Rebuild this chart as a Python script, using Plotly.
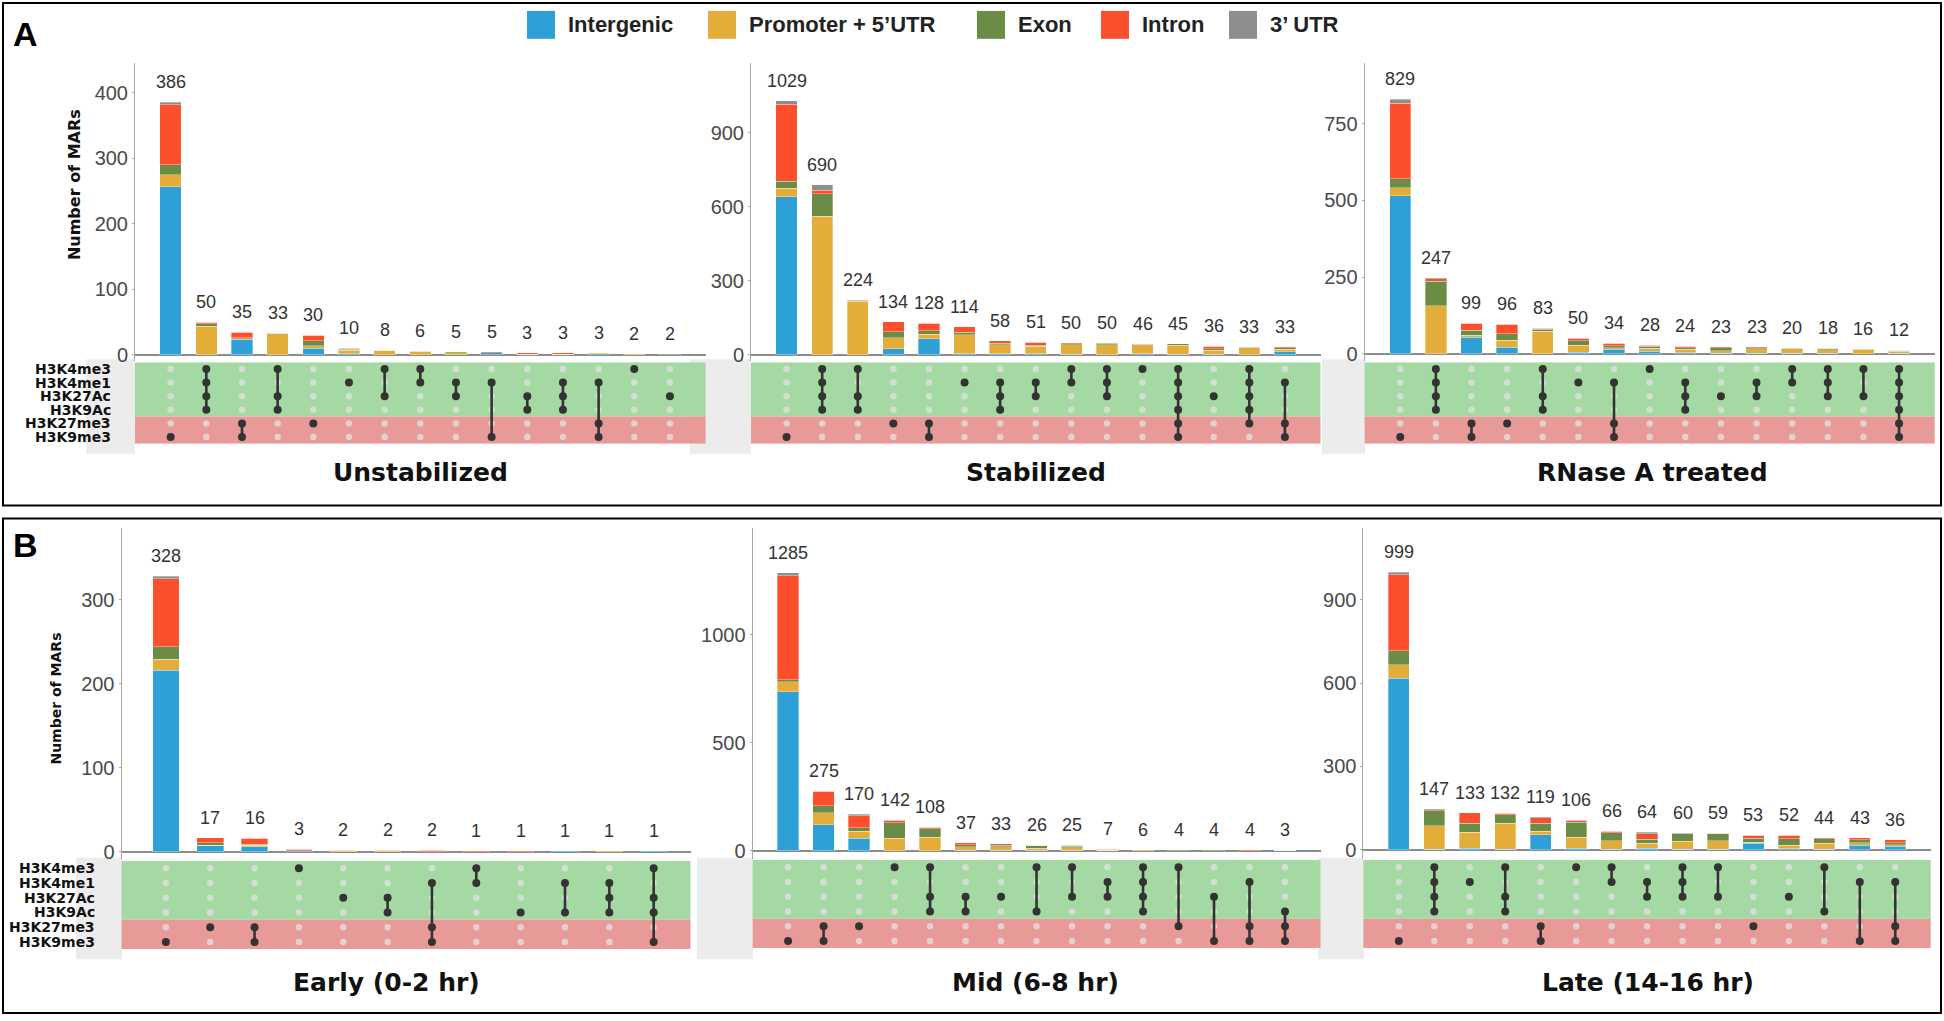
import plotly.graph_objects as go

W, H = 1944, 1021

marks = ["H3K4me3", "H3K4me1", "H3K27Ac", "H3K9Ac", "H3K27me3", "H3K9me3"]
categories = ["Intergenic", "Promoter + 5’UTR", "Exon", "Intron", "3’ UTR"]
cat_colors = ["#2ea0d8", "#e4ad3a", "#6a8c47", "#fe4f2d", "#8e8e8e"]

# ---------------- Panel A: Unstabilized ----------------
unst_totals     = [386, 50, 35, 33, 30, 10, 8, 6, 5, 5, 3, 3, 3, 2, 2]
unst_intergenic = [257, 0, 23, 0, 10, 2, 0, 0, 0, 3, 0, 0, 2, 0, 0]
unst_promoter   = [18, 44, 2, 32, 4, 5, 7, 5, 3, 0, 1, 1, 1, 2, 0]
unst_exon       = [15, 4, 1, 0, 8, 2, 0, 0, 2, 0, 0, 0, 0, 0, 2]
unst_intron     = [92, 2, 9, 1, 8, 1, 1, 1, 0, 2, 2, 2, 0, 0, 0]
unst_utr3       = [4, 0, 0, 0, 0, 0, 0, 0, 0, 0, 0, 0, 0, 0, 0]
unst_sets = [[5], [0, 1, 2, 3], [4, 5], [0, 2, 3], [4], [1], [0, 2], [0, 1], [1, 2],
             [1, 5], [2, 3], [1, 2, 3], [1, 4, 5], [0], [2]]

# ---------------- Panel A: Stabilized ----------------
stab_totals     = [1029, 690, 224, 134, 128, 114, 58, 51, 50, 50, 46, 45, 36, 33, 33]
stab_intergenic = [640, 0, 0, 26, 66, 5, 4, 4, 2, 1, 4, 2, 2, 1, 12]
stab_promoter   = [36, 562, 218, 44, 17, 76, 38, 32, 40, 40, 37, 38, 18, 28, 12]
stab_exon       = [28, 90, 4, 24, 16, 10, 6, 3, 4, 7, 3, 5, 6, 2, 6]
stab_intron     = [311, 15, 2, 40, 29, 23, 10, 12, 4, 2, 2, 0, 10, 2, 3]
stab_utr3       = [14, 23, 0, 0, 0, 0, 0, 0, 0, 0, 0, 0, 0, 0, 0]
stab_sets = [[5], [0, 1, 2, 3], [0, 2, 3], [4], [4, 5], [1], [1, 2, 3], [1, 2], [0, 1],
             [0, 1, 2], [0], [0, 1, 2, 3, 4, 5], [2], [0, 1, 2, 3, 4], [1, 4, 5]]

# ---------------- Panel A: RNase A treated ----------------
rnase_totals     = [829, 247, 99, 96, 83, 50, 34, 28, 24, 23, 23, 20, 18, 16, 12]
rnase_intergenic = [515, 0, 53, 21, 0, 5, 15, 8, 3, 2, 2, 1, 1, 0, 1]
rnase_promoter   = [26, 156, 8, 23, 73, 22, 5, 10, 11, 8, 14, 15, 12, 15, 7]
rnase_exon       = [29, 80, 16, 21, 7, 15, 6, 6, 6, 9, 4, 2, 3, 1, 4]
rnase_intron     = [247, 8, 22, 31, 3, 7, 8, 4, 4, 4, 3, 2, 2, 0, 0]
rnase_utr3       = [12, 3, 0, 0, 0, 1, 0, 0, 0, 0, 0, 0, 0, 0, 0]
rnase_sets = [[5], [0, 1, 2, 3], [4, 5], [4], [0, 2, 3], [1], [1, 4, 5], [0], [1, 2, 3],
              [2], [1, 2], [0, 1], [0, 1, 2], [0, 2], [0, 1, 2, 3, 4, 5]]

# ---------------- Panel B: Early (0-2 hr) ----------------
early_totals     = [328, 17, 16, 3, 2, 2, 2, 1, 1, 1, 1, 1]
early_intergenic = [216, 7, 6, 1, 0, 0, 0, 0, 0, 1, 0, 1]
early_promoter   = [13, 1, 2, 0, 1, 1, 0, 0, 0, 0, 1, 0]
early_exon       = [15, 3, 1, 0, 0, 0, 0, 0, 0, 0, 0, 0]
early_intron     = [81, 6, 7, 2, 1, 1, 2, 1, 1, 0, 0, 0]
early_utr3       = [3, 0, 0, 0, 0, 0, 0, 0, 0, 0, 0, 0]
early_sets = [[5], [4], [4, 5], [0], [2], [2, 3], [1, 4, 5], [0, 1], [3], [1, 3],
              [1, 2, 3], [0, 2, 3, 5]]

# ---------------- Panel B: Mid (6-8 hr) ----------------
mid_totals     = [1285, 275, 170, 142, 108, 37, 33, 26, 25, 7, 6, 4, 4, 4, 3]
mid_intergenic = [736, 120, 57, 0, 0, 3, 3, 2, 2, 0, 0, 0, 1, 0, 1]
mid_promoter   = [46, 55, 33, 57, 63, 15, 15, 10, 12, 2, 5, 1, 0, 0, 0]
mid_exon       = [9, 34, 17, 72, 40, 9, 8, 14, 7, 1, 1, 3, 3, 0, 2]
mid_intron     = [482, 66, 56, 9, 5, 10, 7, 0, 4, 4, 0, 0, 0, 4, 0]
mid_utr3       = [12, 0, 7, 4, 0, 0, 0, 0, 0, 0, 0, 0, 0, 0, 0]
mid_sets = [[5], [4, 5], [4], [0], [0, 2, 3], [2, 3], [2], [0, 3], [0, 2], [1, 2],
            [0, 1, 2, 3], [0, 4], [2, 5], [1, 4, 5], [3, 4, 5]]

# ---------------- Panel B: Late (14-16 hr) ----------------
late_totals     = [999, 147, 133, 132, 119, 106, 66, 64, 60, 59, 53, 52, 44, 43, 36]
late_intergenic = [618, 2, 6, 2, 55, 5, 2, 6, 2, 2, 24, 4, 2, 17, 12]
late_promoter   = [47, 84, 58, 93, 11, 40, 31, 18, 28, 31, 4, 12, 22, 9, 7]
late_exon       = [51, 54, 31, 31, 29, 55, 28, 14, 28, 24, 14, 24, 16, 10, 7]
late_intron     = [273, 5, 38, 6, 20, 6, 5, 19, 0, 2, 11, 12, 4, 7, 10]
late_utr3       = [10, 2, 0, 0, 4, 0, 0, 7, 2, 0, 0, 0, 0, 0, 0]
late_sets = [[5], [0, 1, 2, 3], [1], [0, 2, 3], [4, 5], [0], [0, 1], [1, 2], [0, 1, 2],
             [0, 2], [4], [2], [0, 3], [1, 5], [1, 4, 5]]

y_ticks_unst = [0, 100, 200, 300, 400]
y_ticks_stab = [0, 300, 600, 900]
y_ticks_rnase = [0, 250, 500, 750]
y_ticks_early = [0, 100, 200, 300]
y_ticks_mid = [0, 500, 1000]
y_ticks_late = [0, 300, 600, 900]

panels = [
    dict(title="Unstabilized", totals=unst_totals,
         segs=[unst_intergenic, unst_promoter, unst_exon, unst_intron, unst_utr3],
         sets=unst_sets, ticks=y_ticks_unst, labels_x=113,
         x0=135, x1=705.6, xr=[-1.0, 15.0], bt=63, bb=363, zero=356.7, ppu=0.6583,
         mt=364, mb=446, grey=(86, 135, 361, 456), tx=420, ty=475),
    dict(title="Stabilized", totals=stab_totals,
         segs=[stab_intergenic, stab_promoter, stab_exon, stab_intron, stab_utr3],
         sets=stab_sets, ticks=y_ticks_stab, labels_x=None,
         x0=751, x1=1320.5, xr=[-1.0, 15.0], bt=63, bb=363, zero=356.7, ppu=0.2481,
         mt=364, mb=446, grey=(690, 751, 361, 456), tx=1036, ty=475),
    dict(title="RNase A treated", totals=rnase_totals,
         segs=[rnase_intergenic, rnase_promoter, rnase_exon, rnase_intron, rnase_utr3],
         sets=rnase_sets, ticks=y_ticks_rnase, labels_x=None,
         x0=1364.6, x1=1934.7, xr=[-1.0, 15.0], bt=63, bb=363, zero=355.5, ppu=0.3084,
         mt=364, mb=446, grey=(1322, 1365, 361, 456), tx=1652, ty=475),
    dict(title="Early (0-2 hr)", totals=early_totals,
         segs=[early_intergenic, early_promoter, early_exon, early_intron, early_utr3],
         sets=early_sets, ticks=y_ticks_early, labels_x=97,
         x0=121.5, x1=690.5, xr=[-1.0, 11.83], bt=531, bb=863, zero=856, ppu=0.8444,
         mt=865, mb=954, grey=(76, 122, 862, 964), tx=386, ty=987),
    dict(title="Mid (6-8 hr)", totals=mid_totals,
         segs=[mid_intergenic, mid_promoter, mid_exon, mid_intron, mid_utr3],
         sets=mid_sets, ticks=y_ticks_mid, labels_x=None,
         x0=752.6, x1=1320.5, xr=[-1.0, 15.0], bt=531, bb=863, zero=855, ppu=0.2173,
         mt=864, mb=953, grey=(697, 753, 862, 964), tx=1035, ty=987),
    dict(title="Late (14-16 hr)", totals=late_totals,
         segs=[late_intergenic, late_promoter, late_exon, late_intron, late_utr3],
         sets=late_sets, ticks=y_ticks_late, labels_x=None,
         x0=1363.4, x1=1930.7, xr=[-1.0, 15.0], bt=531, bb=863, zero=854, ppu=0.2793,
         mt=864, mb=953, grey=(1318, 1364, 862, 964), tx=1648, ty=987),
]

NUM_FONT = "Liberation Sans, Arial, sans-serif"
BOLD_FONT = "DejaVu Sans, sans-serif"


def ax_id(letter, k):
    return letter if k == 1 else f"{letter}{k}"


def ax_key(letter, k):
    return f"{letter}axis" if k == 1 else f"{letter}axis{k}"


fig = go.Figure()
layout = dict(
    width=W, height=H, margin=dict(l=0, r=0, t=0, b=0),
    paper_bgcolor="white", plot_bgcolor="rgba(0,0,0,0)",
    barmode="stack", showlegend=False,
)
shapes = []
annotations = []

# grey boxes behind matrices (drawn first)
for p in panels:
    gx0, gx1, gy0, gy1 = p["grey"]
    shapes.append(dict(type="rect", xref="paper", yref="paper",
                       x0=gx0 / W, x1=gx1 / W, y0=1 - gy1 / H, y1=1 - gy0 / H,
                       fillcolor="#ececec", line=dict(width=0), layer="below"))

for i, p in enumerate(panels, start=1):
    n = len(p["totals"])
    xa = ax_id("x", i)
    ya = ax_id("y", i)
    mi = i + 6
    ma = ax_id("y", mi)
    yr = [(p["zero"] - p["bb"]) / p["ppu"], (p["zero"] - p["bt"]) / p["ppu"]]
    layout[ax_key("x", i)] = dict(domain=[p["x0"] / W, p["x1"] / W], range=p["xr"],
                                  anchor=ya, showticklabels=False, showgrid=False,
                                  zeroline=False, showline=False, ticks="")
    layout[ax_key("y", i)] = dict(domain=[1 - p["bb"] / H, 1 - p["bt"] / H], range=yr,
                                  anchor=xa, tickvals=p["ticks"], showgrid=False,
                                  showline=True, linecolor="#a8a8a8", linewidth=1,
                                  ticks="outside", ticklen=2, tickcolor="#a8a8a8",
                                  tickfont=dict(family=NUM_FONT, size=20, color="#4a4a4a"),
                                  zeroline=True, zerolinecolor="#8c8c8c", zerolinewidth=1.6)
    layout[ax_key("y", mi)] = dict(domain=[1 - p["mb"] / H, 1 - p["mt"] / H], range=[5.5, -0.5],
                                   anchor=xa, showgrid=False, zeroline=False, showline=False,
                                   showticklabels=False, ticks="")

    # stacked bars
    for k, seg in enumerate(p["segs"]):
        fig.add_trace(go.Bar(x=list(range(n)), y=seg, xaxis=xa, yaxis=ya,
                             marker=dict(color=cat_colors[k],
                                         line=dict(width=0.6, color="rgba(255,255,255,0.55)")),
                             width=0.6, name=categories[k], showlegend=False))
    # count labels
    for c, t in enumerate(p["totals"]):
        annotations.append(dict(x=c, y=t, xref=xa, yref=ya, text=str(t),
                                showarrow=False, yanchor="bottom", yshift=8,
                                font=dict(family=NUM_FONT, size=18, color="#333")))

    # matrix backgrounds
    shapes.append(dict(type="rect", xref=f"{xa} domain", yref=ma,
                       x0=0, x1=1, y0=-0.5, y1=3.5, fillcolor="#a5d9a3",
                       line=dict(width=0), layer="below"))
    shapes.append(dict(type="rect", xref=f"{xa} domain", yref=ma,
                       x0=0, x1=1, y0=3.5, y1=5.5, fillcolor="#e89a99",
                       line=dict(width=0), layer="below"))

    # row labels
    if p["labels_x"] is not None:
        for r, m in enumerate(marks):
            annotations.append(dict(x=p["labels_x"] / W, y=r, xref="paper", yref=ma,
                                    text=f"<b>{m}</b>", showarrow=False,
                                    xanchor="right", yanchor="middle",
                                    font=dict(family=BOLD_FONT, size=14, color="#111")))

    # inactive dots
    gx = [c for c in range(n) for r in range(6)]
    gy = [r for c in range(n) for r in range(6)]
    fig.add_trace(go.Scatter(x=gx, y=gy, xaxis=xa, yaxis=ma, mode="markers",
                             marker=dict(size=6.5, color="rgba(226,226,226,0.75)"),
                             hoverinfo="skip", showlegend=False))
    # connecting lines
    lx, ly = [], []
    for c, s in enumerate(p["sets"]):
        if len(s) > 1:
            lx += [c, c, None]
            ly += [min(s), max(s), None]
    fig.add_trace(go.Scatter(x=lx, y=ly, xaxis=xa, yaxis=ma, mode="lines",
                             line=dict(color="#333333", width=2.6),
                             hoverinfo="skip", showlegend=False))
    ax = [c for c, s in enumerate(p["sets"]) for r in s]
    ay = [r for c, s in enumerate(p["sets"]) for r in s]
    fig.add_trace(go.Scatter(x=ax, y=ay, xaxis=xa, yaxis=ma, mode="markers",
                             marker=dict(size=8, color="#333333"),
                             hoverinfo="skip", showlegend=False))

    # panel title
    annotations.append(dict(x=p["tx"] / W, y=1 - p["ty"] / H, xref="paper", yref="paper",
                            text=f"<b>{p['title']}</b>", showarrow=False,
                            xanchor="center", yanchor="middle",
                            font=dict(family=BOLD_FONT, size=25, color="#111")))

# y-axis titles
annotations.append(dict(x=74 / W, y=1 - 186 / H, xref="paper", yref="paper",
                        text="<b>Number of MARs</b>", textangle=-90, showarrow=False,
                        xanchor="center", yanchor="middle",
                        font=dict(family=BOLD_FONT, size=16, color="#111")))
annotations.append(dict(x=56 / W, y=1 - 702 / H, xref="paper", yref="paper",
                        text="<b>Number of MARs</b>", textangle=-90, showarrow=False,
                        xanchor="center", yanchor="middle",
                        font=dict(family=BOLD_FONT, size=14, color="#111")))

# panel letters
for letter, ly_ in [("A", 34), ("B", 548)]:
    annotations.append(dict(x=25 / W, y=1 - ly_ / H, xref="paper", yref="paper",
                            text=f"<b>{letter}</b>", showarrow=False,
                            xanchor="center", yanchor="middle",
                            font=dict(family="Liberation Sans, Arial", size=34, color="#000")))

# panel borders
for (y0, y1) in [(3, 508), (521, 1018)]:
    shapes.append(dict(type="rect", xref="paper", yref="paper",
                       x0=3 / W, x1=1941 / W, y0=1 - y1 / H, y1=1 - y0 / H,
                       line=dict(color="#000", width=2), fillcolor="rgba(0,0,0,0)"))

# legend
legend_sq_x = [527, 708, 977, 1101, 1229]
for k, cat in enumerate(categories):
    sx = legend_sq_x[k]
    shapes.append(dict(type="rect", xref="paper", yref="paper",
                       x0=sx / W, x1=(sx + 28) / W, y0=1 - 39 / H, y1=1 - 11 / H,
                       fillcolor=cat_colors[k], line=dict(width=0)))
    annotations.append(dict(x=(sx + 39) / W, y=1 - 25 / H, xref="paper", yref="paper",
                            text=f"<b>{cat}</b>", showarrow=False,
                            xanchor="left", yanchor="middle",
                            font=dict(family="Liberation Sans, Arial", size=22, color="#222")))

layout["shapes"] = shapes
layout["annotations"] = annotations
fig.update_layout(**layout)
fig.write_html("out.html",
               config={"displayModeBar": False},
               post_script="document.body.style.margin='0';document.body.style.padding='0';"
                           "document.body.style.overflow='hidden';")
